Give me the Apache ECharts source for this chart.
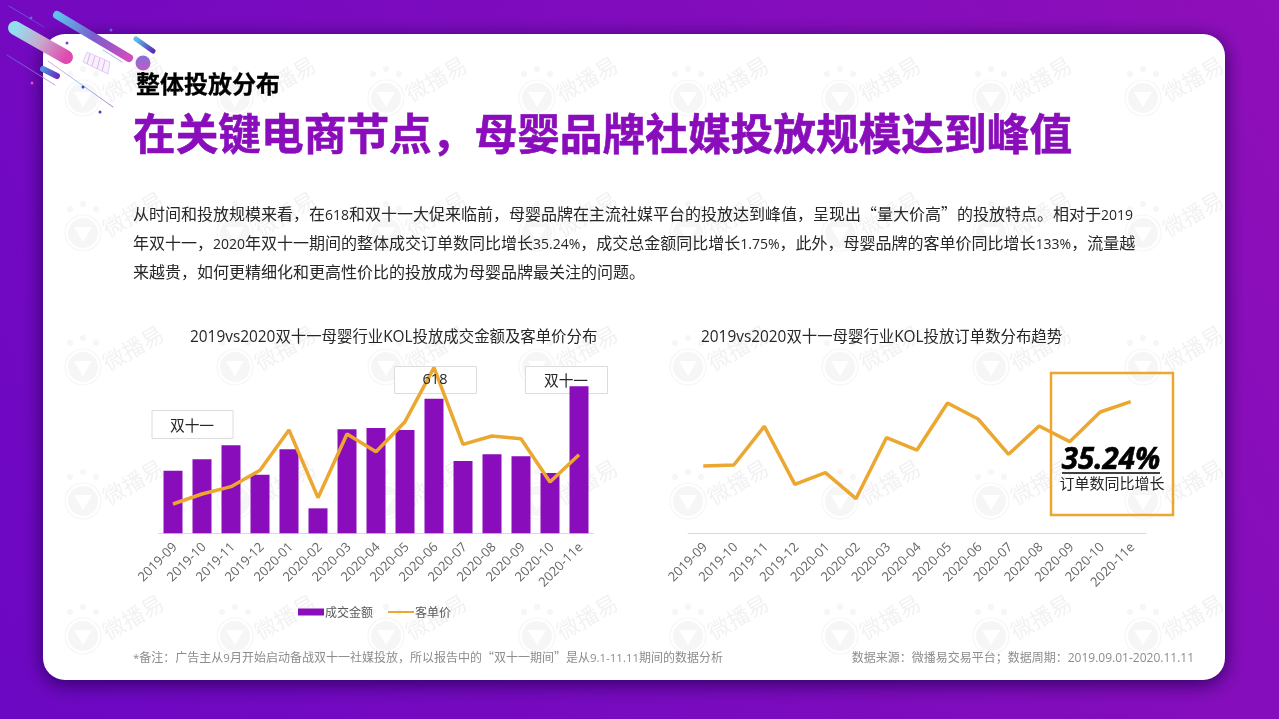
<!DOCTYPE html>
<html>
<head>
<meta charset="utf-8">
<title>整体投放分布</title>
<script src="https://cdn.jsdelivr.net/npm/echarts@6/dist/echarts.min.js"></script>
<style>
html, body { margin: 0; padding: 0; background: #7a0abf; overflow: hidden; }
#main { width: 1279px; height: 719px; }
</style>
</head>
<body>
<div id="main"></div>
<script>
// months shared by both charts
var months = ['2019-09', '2019-10', '2019-11', '2019-12', '2020-01', '2020-02', '2020-03', '2020-04',
    '2020-05', '2020-06', '2020-07', '2020-08', '2020-09', '2020-10', '2020-11e'];
// no value axis in the picture, so these are relative heights read off the marks
var gmvValues = [188, 222, 264, 176, 252, 75, 312, 316, 310, 404, 217, 237, 231, 181, 441];
var unitPriceValues = [88, 118, 140, 189, 310, 107, 298, 245, 335, 497, 267, 292, 284, 154, 236];
var orderValues = [202, 205, 321, 147, 182, 104, 287, 250, 391, 343, 237, 322, 275, 364, 395];

var bodyLines = [
    '从时间和投放规模来看，在618和双十一大促来临前，母婴品牌在主流社媒平台的投放达到峰值，呈现出“量大价高”的投放特点。相对于2019',
    '年双十一，2020年双十一期间的整体成交订单数同比增长35.24%，成交总金额同比增长1.75%，此外，母婴品牌的客单价同比增长133%，流量越',
    '来越贵，如何更精细化和更高性价比的投放成为母婴品牌最关注的问题。'
];

var CJK = '"Noto Sans CJK SC",sans-serif';
var FONT = '"Open Sans","Noto Sans CJK SC",sans-serif';
var PURPLE = '#8a0dbb';
var ORANGE = '#eba72f';

function grad(x, y, x2, y2, stops) {
    return {
        type: 'linear', global: true, x: x, y: y, x2: x2, y2: y2,
        colorStops: stops.map(function(c, i) {
            return { offset: i / (stops.length - 1), color: c };
        })
    };
}

function text(str, x, y, size, color, extra) {
    var style = { text: str, x: x, y: y, fontSize: size, fontFamily: CJK, fill: color, textVerticalAlign: 'middle' };
    for (var k in extra) style[k] = extra[k];
    return { type: 'text', z: 20, silent: true, style: style };
}

// copy lines: latin runs are narrower than the CJK around them, top padding puts them back on the baseline
function copyLine(str, x, y, size, latinSize, drop, color, align) {
    return text(str.replace(/[0-9A-Za-z.%\-*]+/g, '{n|$&}'), x, y, size, color, {
        textAlign: align || 'left',
        rich: { n: { fontSize: latinSize, fontFamily: FONT, fill: color, padding: [drop, 0, 0, 0] } }
    });
}

function pill(x1, y1, x2, y2, w, stops) {
    return {
        type: 'line', z: 4, silent: true,
        shape: { x1: x1, y1: y1, x2: x2, y2: y2 },
        style: { lineWidth: w, lineCap: 'round', stroke: grad(x1, y1, x2, y2, stops) }
    };
}

function dot(x, y, r, color) {
    return { type: 'circle', z: 4, silent: true, shape: { cx: x, cy: y, r: r }, style: { fill: color } };
}

function box(x, y, w, h) {
    return {
        type: 'rect', z: 3, silent: true,
        shape: { x: x, y: y, width: w, height: h },
        style: { fill: '#fff', stroke: '#dcdcdc', lineWidth: 1 }
    };
}

var elements = [];

// page background and white panel
elements.push({
    type: 'rect', z: 0, silent: true,
    shape: { x: 0, y: 0, width: 1279, height: 719 },
    style: { fill: grad(0, 719, 1279, 0, ['#6c07c3', '#7c0bbe', '#8f0fb9']) }
});
elements.push({
    type: 'rect', z: 1, silent: true,
    shape: { x: 43, y: 34, width: 1182, height: 646, r: 22 },
    style: { fill: '#fff', shadowBlur: 20, shadowColor: 'rgba(40,0,90,0.95)', shadowOffsetY: 4 }
});

// watermark tiles
var wmColumns = [83, 235, 386, 537, 688, 840, 991, 1143];
var wmRows = [98, 233, 367, 501, 636];
wmRows.forEach(function(cy) {
    wmColumns.forEach(function(cx) {
        var gray = '#f6f6f6';
        elements.push({ type: 'circle', z: 2, silent: true, shape: { cx: cx, cy: cy, r: 15 }, style: { fill: gray } });
        elements.push({ type: 'circle', z: 2, silent: true, shape: { cx: cx, cy: cy, r: 18 }, style: { fill: 'none', stroke: gray, lineWidth: 1.2 } });
        elements.push({ type: 'polygon', z: 2, silent: true, shape: { points: [[cx - 9, cy - 6], [cx + 9, cy - 6], [cx, cy + 9]] }, style: { fill: '#fff' } });
        [[-13, -24], [0, -29], [13, -24]].forEach(function(p) {
            elements.push({ type: 'circle', z: 2, silent: true, shape: { cx: cx + p[0], cy: cy + p[1], r: 3 }, style: { fill: gray } });
        });
        elements.push({
            type: 'text', z: 2, silent: true, x: cx + 50, y: cy - 19, rotation: Math.PI / 6,
            style: { text: '微播易', fontSize: 22, fontFamily: CJK, fill: '#f2f2f2', textAlign: 'center', textVerticalAlign: 'middle' }
        });
    });
});

// meteor decoration, top left
elements.push(pill(15, 28, 66, 57, 14, ['#90e0f0', '#c8a8cc', '#de4cb0']));
elements.push(pill(57, 15, 129, 58, 8, ['#5cc4ea', '#7a5ed0', '#d14cbc']));
elements.push(pill(136, 39, 153, 51, 5, ['#5cc0ea', '#5a2db8']));
elements.push(pill(43, 69, 57, 76, 6, ['#4f8fe0', '#6a2fc0']));
elements.push({ type: 'circle', z: 4, silent: true, shape: { cx: 143, cy: 63, r: 7.5 }, style: { fill: grad(143, 56, 143, 71, ['#8a6fd8', '#c05cc0']) } });
elements.push(pill(9, 6, 44, 27, 0.8, ['#5a70d8', '#8040d0']));
elements.push(pill(7, 55, 55, 85, 0.8, ['#5a70d8', '#c080e0']));
elements.push(pill(48, 61, 113, 107, 1, ['#f0a0d0', '#90c8f0', '#c070d8']));
elements.push(pill(103, 50, 122, 62, 1, ['#90c8f0', '#c0a0e8']));
elements.push(dot(31, 18, 1.5, '#5a70d8'));
elements.push(dot(111, 30, 1.5, '#5a70d8'));
elements.push(dot(67, 43, 1.5, '#8040d0'));
elements.push(dot(32, 83, 1.5, '#e050b0'));
elements.push(dot(100, 112, 1.5, '#4040c8'));
elements.push(dot(83, 87, 1.5, '#4040c8'));
elements.push({
    type: 'polygon', z: 4, silent: true,
    shape: { points: [[87, 52], [110, 62], [108, 74], [83, 62]] },
    style: { fill: '#f8f0fc', stroke: '#d8c4f0', lineWidth: 0.8 }
});
[[90, 54, 87, 64], [95, 56, 92, 66], [100, 58, 97, 69], [105, 60, 102, 71]].forEach(function(s) {
    elements.push({ type: 'line', z: 4, silent: true, shape: { x1: s[0], y1: s[1], x2: s[2], y2: s[3] }, style: { stroke: '#e0b4e8', lineWidth: 1 } });
});

// headings and body copy
elements.push(text('整体投放分布', 136, 84, 24, '#000', { fontWeight: 'bold', stroke: '#000', lineWidth: 0.3 }));
elements.push(text('在关键电商节点，母婴品牌社媒投放规模达到峰值', 133, 134, 42.7, PURPLE, { fontWeight: 'bold', stroke: PURPLE, lineWidth: 0.6 }));
bodyLines.forEach(function(line, i) {
    elements.push(copyLine(line, 133, 214 + i * 29, 16, 14, 4, '#262626'));
});

// callout boxes on the left chart
elements.push(box(152, 410.5, 81, 28));
elements.push(box(394.5, 366.5, 82, 27));
elements.push(box(525.5, 366.5, 82, 27));
elements.push(text('双十一', 192, 425, 14.7, '#262626', { textAlign: 'center' }));
elements.push(text('618', 435, 380, 14.5, '#262626', { textAlign: 'center', fontFamily: FONT }));
elements.push(text('双十一', 566, 380, 14.7, '#262626', { textAlign: 'center' }));

// highlight box on the right chart
elements.push({
    type: 'rect', z: 7, silent: true,
    shape: { x: 1051, y: 373, width: 122, height: 142 },
    style: { fill: 'none', stroke: ORANGE, lineWidth: 2.5 }
});
elements.push(text('35.24%', 1111, 461, 29.5, '#000', { textAlign: 'center', fontWeight: 'bold', fontStyle: 'italic', fontFamily: FONT, stroke: '#000', lineWidth: 0.6 }));
elements.push({
    type: 'line', z: 20, silent: true,
    shape: { x1: 1062, y1: 473, x2: 1160, y2: 473 },
    style: { stroke: '#000', lineWidth: 1.5 }
});
elements.push(text('订单数同比增长', 1112, 483, 15, '#262626', { textAlign: 'center' }));

// footnotes
elements.push(copyLine('*备注：广告主从9月开始启动备战双十一社媒投放，所以报告中的“双十一期间”是从9.1-11.11期间的数据分析', 133, 657, 12, 11.5, 3, '#8c8c8c'));
elements.push(copyLine('数据来源：微播易交易平台；数据周期：2019.09.01-2020.11.11', 1194, 657, 12, 12, 3, '#8c8c8c', 'right'));

function catAxis(gridIndex) {
    return {
        type: 'category', gridIndex: gridIndex, data: months, z: 5,
        axisLine: { show: true, lineStyle: { color: '#d9d9d9', width: 1 } },
        axisTick: { show: false },
        axisLabel: { interval: 0, rotate: 45, color: '#666', fontSize: 13, fontFamily: FONT, margin: 14, padding: [0, -3, 0, 0] }
    };
}

function valAxis(gridIndex) {
    return { type: 'value', gridIndex: gridIndex, min: 0, max: 500, show: false, splitLine: { show: false } };
}

var titleStyle = { fontSize: 15.4, fontWeight: 'normal', color: '#262626', fontFamily: FONT };

var chart = echarts.init(document.getElementById('main'));
chart.setOption({
    animation: false,
    title: [
        { text: '2019vs2020双十一母婴行业KOL投放成交金额及客单价分布', left: 190, top: 330, padding: 0, z: 20, textStyle: titleStyle },
        { text: '2019vs2020双十一母婴行业KOL投放订单数分布趋势', left: 701, top: 330, padding: 0, z: 20, textStyle: titleStyle }
    ],
    legend: {
        left: 298, top: 606, padding: 0, z: 20, itemWidth: 26, itemHeight: 7, itemGap: 14,
        data: [{ name: '成交金额', icon: 'rect' }, { name: '客单价', itemStyle: { opacity: 0 } }],
        textStyle: { color: '#595959', fontSize: 12, fontFamily: CJK, padding: [0, 0, 0, -4] }
    },
    grid: [
        { left: 158.5, width: 435, top: 366.67, height: 166.67 },
        { left: 688, width: 458, top: 366.67, height: 166.67 }
    ],
    xAxis: [catAxis(0), catAxis(1)],
    yAxis: [valAxis(0), valAxis(1)],
    series: [
        { name: '成交金额', type: 'bar', z: 5, xAxisIndex: 0, yAxisIndex: 0, data: gmvValues, barWidth: 19, itemStyle: { color: PURPLE } },
        { name: '客单价', type: 'line', z: 6, xAxisIndex: 0, yAxisIndex: 0, data: unitPriceValues, symbol: 'none', lineStyle: { color: ORANGE, width: 3.5 }, itemStyle: { color: ORANGE } },
        { name: '订单数', type: 'line', z: 6, xAxisIndex: 1, yAxisIndex: 1, data: orderValues, symbol: 'none', lineStyle: { color: ORANGE, width: 3.5 }, itemStyle: { color: ORANGE } }
    ],
    graphic: { elements: elements }
});
</script>
</body>
</html>
